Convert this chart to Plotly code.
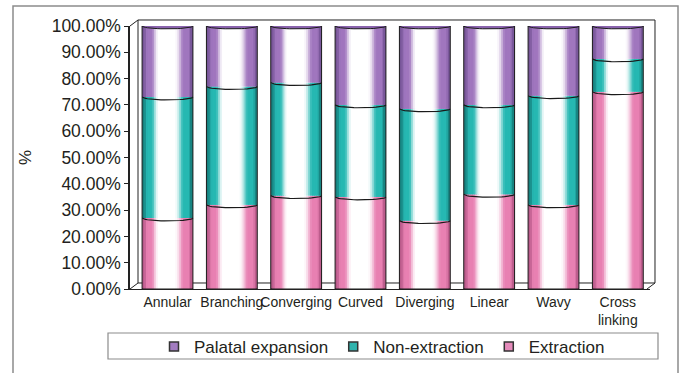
import plotly.graph_objects as go
import numpy as np

categories = ["Annular", "Branching", "Converging", "Curved", "Diverging",
              "Linear", "Wavy", "Cross<br>linking"]
extraction = [27.0, 32.0, 35.5, 35.0, 26.0, 36.0, 32.0, 75.0]
non_extraction = [46.0, 45.0, 43.0, 35.0, 42.5, 34.0, 41.5, 12.5]
palatal_expansion = [27.0, 23.0, 21.5, 30.0, 31.5, 30.0, 26.5, 12.5]
y_ticks = [0, 10, 20, 30, 40, 50, 60, 70, 80, 90, 100]
y_tick_labels = ["0.00%", "10.00%", "20.00%", "30.00%", "40.00%", "50.00%",
                 "60.00%", "70.00%", "80.00%", "90.00%", "100.00%"]

FONT = "Arial, Liberation Sans, sans-serif"
TXT = "#231f20"
x_idx = np.arange(len(categories))
BAR_W = 0.79
N_STRIPES = 26

# series styling: (name, values, base colour, edge colour, legend colour)
series = [
    ("Extraction", extraction, (232, 128, 178), (178, 84, 132), "#e58bbb"),
    ("Non-extraction", non_extraction, (38, 184, 178), (20, 120, 118), "#2fb3ad"),
    ("Palatal expansion", palatal_expansion, (160, 118, 190), (112, 80, 146), "#a27cc0"),
]

# cylinder shading profile across the bar width: amount of colour (0 = white)
prof_s = [0.0, 0.06, 0.10, 0.20, 0.27, 0.31, 0.66, 0.72, 0.80, 0.92, 0.96, 1.0]
prof_c = [1.35, 1.2, 1.0, 1.0, 0.25, 0.0, 0.0, 0.3, 1.0, 1.0, 1.2, 1.35]


def stripe_colour(base, edge, amt):
    if amt <= 1.0:
        c = [255 + (b - 255) * amt for b in base]
    else:
        f = min((amt - 1.0) / 0.35, 1.0)
        c = [b + (e - b) * f for b, e in zip(base, edge)]
    return "rgb(%d,%d,%d)" % tuple(int(round(v)) for v in c)


fig = go.Figure()

step = BAR_W / N_STRIPES
bases = np.zeros(len(categories))
boundaries = []
for name, vals, base_c, edge_c, leg_c in series:
    vals = np.array(vals, dtype=float)
    for k in range(N_STRIPES):
        s = (k + 0.5) / N_STRIPES
        amt = float(np.interp(s, prof_s, prof_c))
        # each stripe overlaps its right neighbour slightly so no seams show
        w = step if k == N_STRIPES - 1 else step * 1.8
        fig.add_trace(go.Bar(
            x=x_idx, y=vals, base=bases.copy(),
            width=w, offset=-BAR_W / 2 + k * step,
            marker=dict(color=stripe_colour(base_c, edge_c, amt), line=dict(width=0)),
            showlegend=False, hoverinfo="skip"))
    bases = bases + vals
    boundaries.append(bases.copy())

totals = boundaries[-1]

# outline of each whole cylinder
fig.add_trace(go.Bar(
    x=x_idx, y=totals, base=np.zeros(len(categories)), width=BAR_W,
    marker=dict(color="rgba(0,0,0,0)", line=dict(color="#1a1a1a", width=1)),
    showlegend=False, hoverinfo="skip"))

# curved front edges at the segment boundaries (and the floor)
t = np.linspace(0, np.pi, 25)
RY = 1.1
cx, cy = [], []
for level in [np.zeros(len(categories))] + boundaries[:-1]:
    for i, lv in zip(x_idx, level):
        cx += list(i + BAR_W / 2 * np.cos(t)) + [None]
        cy += list(lv - RY * np.sin(t)) + [None]
fig.add_trace(go.Scatter(x=cx, y=cy, mode="lines",
                         line=dict(color="#1a1a1a", width=1.2),
                         showlegend=False, hoverinfo="skip"))

# elliptical caps on top of the cylinders
tt = np.linspace(0, 2 * np.pi, 49)
ex, ey = [], []
for i, lv in zip(x_idx, totals):
    ex += list(i + BAR_W / 2 * np.cos(tt)) + [None]
    ey += list(lv + RY * np.sin(tt)) + [None]
fig.add_trace(go.Scatter(x=ex, y=ey, mode="lines", fill="toself",
                         fillcolor="#8a64ad", line=dict(color="#1a1a1a", width=1),
                         showlegend=False, hoverinfo="skip"))

# legend entries
for name, vals, base_c, edge_c, leg_c in reversed(series):
    fig.add_trace(go.Scatter(
        x=[None], y=[None], mode="markers", name=name,
        marker=dict(symbol="square", size=9, color=leg_c,
                    line=dict(color="#333333", width=1.5))))


def px_x(p):
    return (p - 130) / 520.0


def px_y(p):
    return (289 - p) / 263.0


line_k = dict(color="#222222", width=1)
shapes = [
    # chart frame
    dict(type="rect", xref="paper", yref="paper", x0=px_x(13), x1=px_x(678),
         y0=px_y(390), y1=px_y(6), line=dict(color="#8c8c8c", width=1.5), layer="below"),
    # legend frame
    dict(type="rect", xref="paper", yref="paper", x0=px_x(108), x1=px_x(658),
         y0=px_y(359), y1=px_y(333), line=dict(color="#8c8c8c", width=1.2), layer="below"),
    # back wall
    dict(type="path", xref="paper", yref="paper", layer="below", line=line_k,
         path="M %f %f L %f %f L %f %f L %f %f Z" % (
             px_x(138), px_y(283), px_x(138), px_y(20), px_x(655), px_y(20),
             px_x(655), px_y(283))),
    # side wall / floor depth edges
    dict(type="line", xref="paper", yref="paper", layer="below", line=line_k,
         x0=px_x(130), y0=px_y(26), x1=px_x(138), y1=px_y(20)),
    dict(type="line", xref="paper", yref="paper", layer="below", line=line_k,
         x0=px_x(130), y0=px_y(289), x1=px_x(138), y1=px_y(283)),
    dict(type="line", xref="paper", yref="paper", layer="below", line=line_k,
         x0=px_x(647), y0=px_y(289), x1=px_x(655), y1=px_y(283)),
]

fig.update_layout(
    width=685, height=373,
    margin=dict(l=130, r=35, t=26, b=84, autoexpand=False),
    paper_bgcolor="white", plot_bgcolor="rgba(0,0,0,0)",
    barmode="overlay",
    font=dict(family=FONT, color=TXT),
    shapes=shapes,
    showlegend=True,
    legend=dict(orientation="h", xanchor="left", yanchor="top",
                x=px_x(154), y=px_y(329), font=dict(size=17, color=TXT),
                bgcolor="rgba(0,0,0,0)", borderwidth=0,
                itemwidth=30, tracegroupgap=0),
    xaxis=dict(range=[-0.583, 7.5], tickvals=list(x_idx), ticktext=categories,
               tickangle=0, automargin=False,
               showgrid=False, zeroline=False, showline=True,
               linecolor="#222222", linewidth=1, ticks="",
               tickfont=dict(size=14, color=TXT)),
    yaxis=dict(range=[0, 100], tickvals=y_ticks, ticktext=y_tick_labels,
               automargin=False,
               showgrid=False, zeroline=False, showline=True,
               linecolor="#222222", linewidth=1.5, ticks="outside", ticklen=4,
               tickcolor="#222222", tickfont=dict(size=17.5, color=TXT),
               title=dict(text="%", font=dict(size=17, color=TXT), standoff=16)),
)

fig.write_html("out.html")
